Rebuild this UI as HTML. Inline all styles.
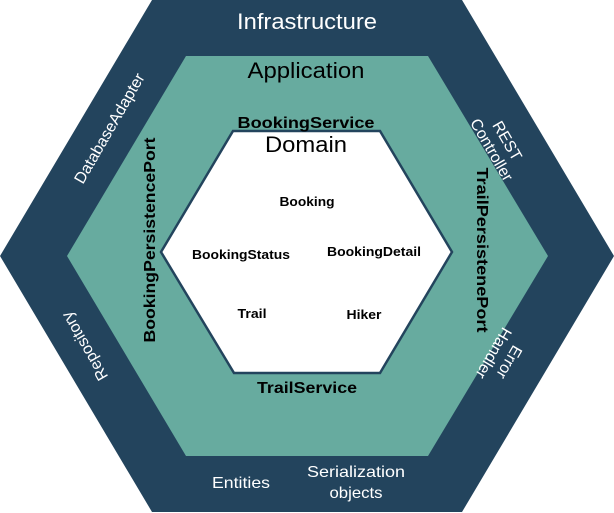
<!DOCTYPE html>
<html><head><meta charset="utf-8"><style>html,body{margin:0;padding:0;background:#fff}svg{display:block}</style></head>
<body>
<svg width="614" height="513" viewBox="0 0 614 513" xmlns="http://www.w3.org/2000/svg" font-family="Liberation Sans, Arial, sans-serif">
<polygon points="152,0 462,0 614,256 462,512 152,512 0,256" fill="#23445d"/>
<polygon points="186,56 428,56 548,256 428,456 186,456 67,256" fill="#67ab9f"/>
<polygon points="233,131 380,131 452,252 380,373 234,373 161,252" fill="#fff" stroke="#23445d" stroke-width="2.5"/>
<g text-anchor="middle" lengthAdjust="spacingAndGlyphs">
<text x="307" y="29" font-size="22" fill="#fff" textLength="140" lengthAdjust="spacingAndGlyphs">Infrastructure</text>
<text x="306" y="78" font-size="22" fill="#000" textLength="117" lengthAdjust="spacingAndGlyphs">Application</text>
<text x="306" y="128" font-size="16" font-weight="bold" textLength="137" lengthAdjust="spacingAndGlyphs">BookingService</text>
<text x="306" y="152" font-size="22" textLength="82" lengthAdjust="spacingAndGlyphs">Domain</text>
<text x="307" y="206" font-size="13" font-weight="bold" textLength="55" lengthAdjust="spacingAndGlyphs">Booking</text>
<text x="241" y="259" font-size="13" font-weight="bold" textLength="98" lengthAdjust="spacingAndGlyphs">BookingStatus</text>
<text x="374" y="256" font-size="13" font-weight="bold" textLength="94" lengthAdjust="spacingAndGlyphs">BookingDetail</text>
<text x="252" y="318" font-size="13" font-weight="bold" textLength="29" lengthAdjust="spacingAndGlyphs">Trail</text>
<text x="364" y="319" font-size="13" font-weight="bold" textLength="35" lengthAdjust="spacingAndGlyphs">Hiker</text>
<text x="307" y="393" font-size="16" font-weight="bold" textLength="100" lengthAdjust="spacingAndGlyphs">TrailService</text>
<text x="241" y="488" font-size="16" fill="#fff" textLength="58" lengthAdjust="spacingAndGlyphs">Entities</text>
<text x="356" y="477" font-size="16" fill="#fff" textLength="98" lengthAdjust="spacingAndGlyphs">Serialization</text>
<text x="356" y="498" font-size="16" fill="#fff" textLength="53" lengthAdjust="spacingAndGlyphs">objects</text>
<text transform="translate(155,240) rotate(-90)" font-size="16" font-weight="bold" textLength="205" lengthAdjust="spacingAndGlyphs">BookingPersistencePort</text>
<text transform="translate(477,250) rotate(90)" font-size="16" font-weight="bold" textLength="165" lengthAdjust="spacingAndGlyphs">TrailPersistenePort</text>
<text transform="translate(114,131) rotate(-60)" font-size="16" fill="#fff">DatabaseAdapter</text>
<text transform="translate(85,346) rotate(240)" font-size="16" fill="#fff" dy="5">Repository</text>
<g transform="translate(500,145) rotate(60)" font-size="16" fill="#fff"><text y="-3">REST</text><text y="15">Controller</text></g>
<g transform="translate(502,358) rotate(120)" font-size="16" fill="#fff"><text y="-3">Error</text><text y="15">Handler</text></g>
</g>
</svg>
</body></html>
